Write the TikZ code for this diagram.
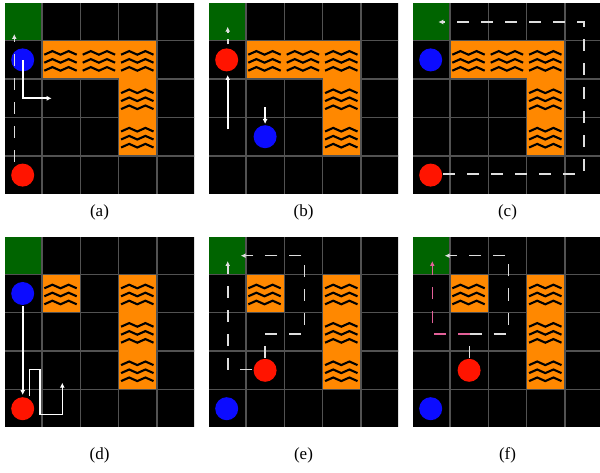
\documentclass[tikz,border=0pt]{standalone}
\usepackage{fontspec}
\setmainfont{Liberation Serif}
\usetikzlibrary{arrows.meta}
\definecolor{goalc}{RGB}{0,100,0}
\definecolor{gridc}{RGB}{82,82,82}
\definecolor{lavac}{RGB}{255,136,0}
\definecolor{agred}{RGB}{255,20,0}
\definecolor{agblue}{RGB}{12,12,255}
\definecolor{dashc}{RGB}{222,222,222}
\definecolor{pinkc}{RGB}{226,96,152}
\tikzset{
  gridline/.style={draw=gridc, line width=1.5pt},
  lavazone/.style={fill=lavac, draw=gridc, line width=1.5pt},
  wavy/.style={draw=black, line width=2.1pt},
  agentred/.style={circle, fill=agred, minimum size=23pt, inner sep=0pt},
  agentblue/.style={circle, fill=agblue, minimum size=23pt, inner sep=0pt},
  solidarrow/.style={draw=white, line width=1.6pt, -{Latex[length=5pt,width=5pt]}},
  dasharrow/.style={draw=dashc, line width=1.6pt, dash pattern=on 12pt off 12pt, -{Latex[length=5pt,width=5pt]}},
  pinkarrow/.style={dasharrow, draw=pinkc},
  subcap/.style={font=\fontsize{17}{20}\selectfont, inner sep=0pt}
}
% background grid of one panel: #1 x0, #2 y0
\newcommand{\gridbase}[2]{%
  \begin{scope}[shift={(#1,#2)}]
    \begin{scope}
      \clip (1.5,1.7) rectangle (190.5,191);
      \fill[black] (0,0) rectangle (192,192);
      \fill[goalc] (0,0) rectangle (38.4,38.4);
      \foreach \k in {0,...,5} {
        \draw[gridline] ({\k*38.4},0) -- ({\k*38.4},192);
        \draw[gridline] (0,{\k*38.4}) -- (192,{\k*38.4});
      }
    \end{scope}
  \end{scope}}
% waves in one lava cell: #1 col, #2 row
\newcommand{\wavecell}[2]{%
  \foreach \dy in {-7,1,9} {
    \draw[wavy] ({#1*38.4+18.6-16.2},{#2*38.4+19.2+\dy+1.8})
      -- ++(8.1,-3.6) -- ++(8.1,3.6) -- ++(8.1,-3.6) -- ++(8.1,3.6);
  }}
\newcommand{\lavaA}[2]{%
  \begin{scope}[shift={(#1,#2)}]
    \draw[lavazone] (38.4,38.4) -- (153.6,38.4) -- (153.6,153.6) -- (115.2,153.6)
      -- (115.2,76.8) -- (38.4,76.8) -- cycle;
    \wavecell{1}{1}\wavecell{2}{1}\wavecell{3}{1}\wavecell{3}{2}\wavecell{3}{3}
  \end{scope}}
\newcommand{\lavaB}[2]{%
  \begin{scope}[shift={(#1,#2)}]
    \draw[lavazone] (38.4,38.4) rectangle (76.8,76.8);
    \draw[lavazone] (115.2,38.4) rectangle (153.6,153.6);
    \wavecell{1}{1}\wavecell{3}{1}\wavecell{3}{2}\wavecell{3}{3}
  \end{scope}}
\begin{document}
\begin{tikzpicture}[x=1pt,y=-1pt]
\useasboundingbox (0,0) rectangle (600,473);
\fill[white] (0,0) rectangle (600,473);

% ---------- panel (a)
\gridbase{3.5}{2.3}\lavaA{3.5}{2.3}
\node[agentblue] (ba) at (22.7,59.9) {};
\node[agentred] (ra) at (22.7,175.1) {};
\coordinate (a1) at (14.3,162);
\coordinate (a2) at (14.3,34);
\draw[dasharrow] (a1) -- (a2);
\coordinate (a3) at (22.7,98.3);
\coordinate (a4) at (51.7,98.3);
\draw[solidarrow] (ba.center) -- (a3) -- (a4);
\node[subcap] (capa) at (99.5,212) {(a)};

% ---------- panel (b)
\gridbase{207.5}{2.3}\lavaA{207.5}{2.3}
\node[agentred] (rb) at (226.7,59.9) {};
\node[agentblue] (bb) at (265.1,136.7) {};
\coordinate (b1) at (227.7,129.3);
\coordinate (b2) at (227.7,75);
\draw[solidarrow] (b1) -- (b2);
\coordinate (b3) at (227.7,44.3);
\coordinate (b4) at (227.7,26.7);
\draw[dasharrow, dash pattern=on 5pt off 6pt] (b3) -- (b4);
\coordinate (b5) at (265.1,107.3);
\coordinate (b6) at (265.1,124);
\draw[solidarrow] (b5) -- (b6);
\node[subcap] (capb) at (303.5,212) {(b)};

% ---------- panel (c)
\gridbase{411.5}{2.3}\lavaA{411.5}{2.3}
\node[agentblue] (bc) at (430.7,59.9) {};
\node[agentred] (rc) at (430.7,175.1) {};
\coordinate (c1) at (443.3,174);
\coordinate (c2) at (584,174);
\coordinate (c3) at (584,22);
\coordinate (c4) at (438.3,22);
\draw[dasharrow] (c1) -- (c2) -- (c3) -- (c4);
\node[subcap] (capc) at (507.5,212) {(c)};

% ---------- panel (d)
\gridbase{3.5}{235.9}\lavaB{3.5}{235.9}
\node[agentblue] (bd) at (22.7,293.5) {};
\node[agentred] (rd) at (22.7,408.7) {};
\coordinate (d1) at (22.7,306);
\coordinate (d2) at (22.7,395);
\draw[solidarrow] (d1) -- (d2);
\coordinate (d3) at (29.3,396);
\coordinate (d4) at (29.3,369.3);
\coordinate (d5) at (40,369.3);
\coordinate (d6) at (40,414.3);
\coordinate (d7) at (62.3,414.3);
\coordinate (d8) at (62.3,382.7);
\draw[solidarrow] (d3) -- (d4) -- (d5) -- (d6) -- (d7) -- (d8);
\node[subcap] (capd) at (99.5,455) {(d)};

% ---------- panel (e)
\gridbase{207.5}{235.9}\lavaB{207.5}{235.9}
\node[agentred] (re) at (265.1,370.3) {};
\node[agentblue] (be) at (226.7,408.7) {};
\coordinate (e1) at (265.1,357.5);
\coordinate (e2) at (265.1,333.7);
\coordinate (e3) at (304.3,333.7);
\coordinate (e4) at (304.3,255.7);
\coordinate (e5) at (240.7,255.7);
\draw[dasharrow] (e1) -- (e2) -- (e3) -- (e4) -- (e5);
\coordinate (e6) at (252.3,369.3);
\coordinate (e7) at (227.7,369.3);
\coordinate (e8) at (227.7,261);
\draw[dasharrow] (e6) -- (e7) -- (e8);
\node[subcap] (cape) at (303.5,455) {(e)};

% ---------- panel (f)
\gridbase{411.5}{235.9}\lavaB{411.5}{235.9}
\node[agentred] (rf) at (469.1,370.3) {};
\node[agentblue] (bf) at (430.7,408.7) {};
\coordinate (f1) at (469.3,357.5);
\coordinate (f2) at (469.3,333.7);
\coordinate (f3) at (508.3,333.7);
\coordinate (f4) at (508.3,255.7);
\coordinate (f5) at (444.7,255.7);
\draw[dasharrow] (f1) -- (f2) -- (f3) -- (f4) -- (f5);
\coordinate (f6) at (470,333.7);
\coordinate (f7) at (432.3,333.7);
\coordinate (f8) at (432.3,261);
\draw[pinkarrow] (f6) -- (f7) -- (f8);
\node[subcap] (capf) at (507.5,455) {(f)};
\end{tikzpicture}
\end{document}
